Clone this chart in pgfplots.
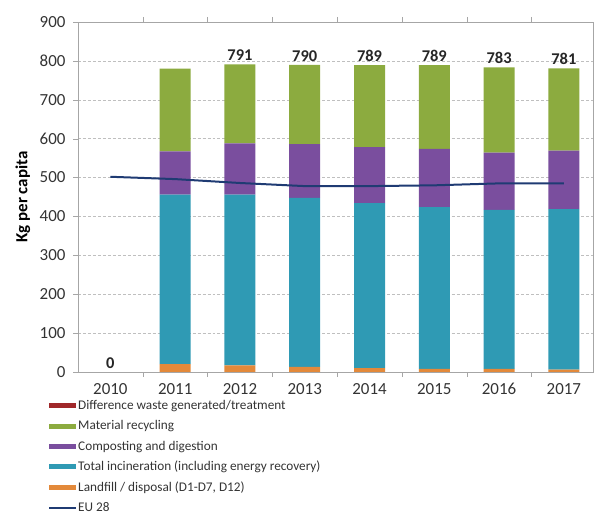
\documentclass[border=0pt]{standalone}
\usepackage{pgfplots}
\pgfplotsset{compat=1.18}
\usepackage{fontspec}
\setmainfont{Carlito}

\definecolor{recgreen}{HTML}{8CAB3F}
\definecolor{comppurple}{HTML}{7A4E9E}
\definecolor{incteal}{HTML}{2F9AB4}
\definecolor{landorange}{HTML}{E3893A}
\definecolor{diffred}{HTML}{A0282A}
\definecolor{eunavy}{HTML}{1F3B73}
\definecolor{framegray}{HTML}{A6A6A6}

\pgfplotsset{
  common/.style={
    scale only axis,
    width=515bp, height=350bp,
    xmin=-0.5, xmax=7.45,
    ymin=0, ymax=900,
  },
  patch/.style={legend image code/.code={\fill[##1, draw=none] (0bp,-2.5bp) rectangle (27bp,2.5bp);}},
  stroke/.style={legend image code/.code={\draw[##1] (0bp,0bp) -- (27bp,0bp);}},
}

\begin{document}
\begin{tikzpicture}[x=1bp,y=1bp]
\useasboundingbox (0,0) rectangle (594,516);

\begin{axis}[common,
  at={(78bp,144bp)}, anchor=south west,
  ybar stacked, bar width=31bp,
  axis line style={framegray},
  tick style={framegray},
  tick align=outside,
  major tick length=5bp,
  minor tick length=5bp,
  xtick={0,...,7},
  xticklabels={2010,2011,2012,2013,2014,2015,2016,2017},
  x tick style={draw=none},
  minor xtick={0.5,1.5,...,6.5},
  minor x tick style={framegray, draw},
  ytick={0,100,...,900},
  ymajorgrids,
  grid style={densely dashed, black!25},
  ticklabel style={font=\fontsize{17}{20}\selectfont, text=black!80},
  xticklabel style={yshift=-3bp},
  yticklabel style={xshift=-4bp},
  /pgf/number format/assume math mode=true,
  ylabel={\textbf{Kg per capita}},
  ylabel style={at={(axis description cs:-0.107,0.5)}, anchor=center,
    font=\fontsize{17}{20}\selectfont, text=black},
  legend style={draw=none, fill=none,
    at={(axis description cs:-0.064,-0.072)}, anchor=north west,
    font=\fontsize{13.3}{15}\selectfont, text=black!80,
    row sep=7.6bp,
    nodes={inner sep=1bp},
  },
  legend cell align=left,
]
% legend entries in the reference's order
\addlegendimage{patch, fill=diffred}
\addlegendimage{patch, fill=recgreen}
\addlegendimage{patch, fill=comppurple}
\addlegendimage{patch, fill=incteal}
\addlegendimage{patch, fill=landorange}
\addlegendimage{stroke, draw=eunavy, solid, line width=2bp}
\legend{Difference waste generated/treatment, Material recycling,
  Composting and digestion, Total incineration (including energy recovery),
  {Landfill / disposal (D1-D7, D12)}, EU 28}

% landfill
\addplot[fill=landorange, draw=none] coordinates
  {(0,0) (1,20) (2,17) (3,13) (4,10) (5,8) (6,8) (7,6)};
% incineration
\addplot[fill=incteal, draw=none] coordinates
  {(0,0) (1,436) (2,439) (3,435) (4,424) (5,416) (6,409) (7,413)};
% composting
\addplot[fill=comppurple, draw=none] coordinates
  {(0,0) (1,111) (2,132) (3,138) (4,144) (5,150) (6,147) (7,150)};
% material recycling
\addplot[fill=recgreen, draw=none] coordinates
  {(0,0) (1,213) (2,203) (3,204) (4,211) (5,215) (6,219) (7,212)};
\end{axis}

\begin{axis}[common,
  at={(78bp,144bp)}, anchor=south west,
  axis lines=none, ticks=none,
]
\addplot[eunavy, line width=2bp, mark=none] coordinates
  {(0,502) (1,496) (2,486) (3,478) (4,478) (5,480) (6,485) (7,485)};
% totals above bars
\addplot[draw=none, mark=none, nodes near coords,
  point meta=explicit symbolic,
  every node near coord/.style={font=\bfseries\fontsize{16.5}{18}\selectfont, text=black!85, anchor=south}]
  coordinates {(0,0)[0] (1,780)[] (2,791)[791] (3,790)[790] (4,789)[789]
               (5,789)[789] (6,783)[783] (7,781)[781]};
\end{axis}
\end{tikzpicture}
\end{document}
